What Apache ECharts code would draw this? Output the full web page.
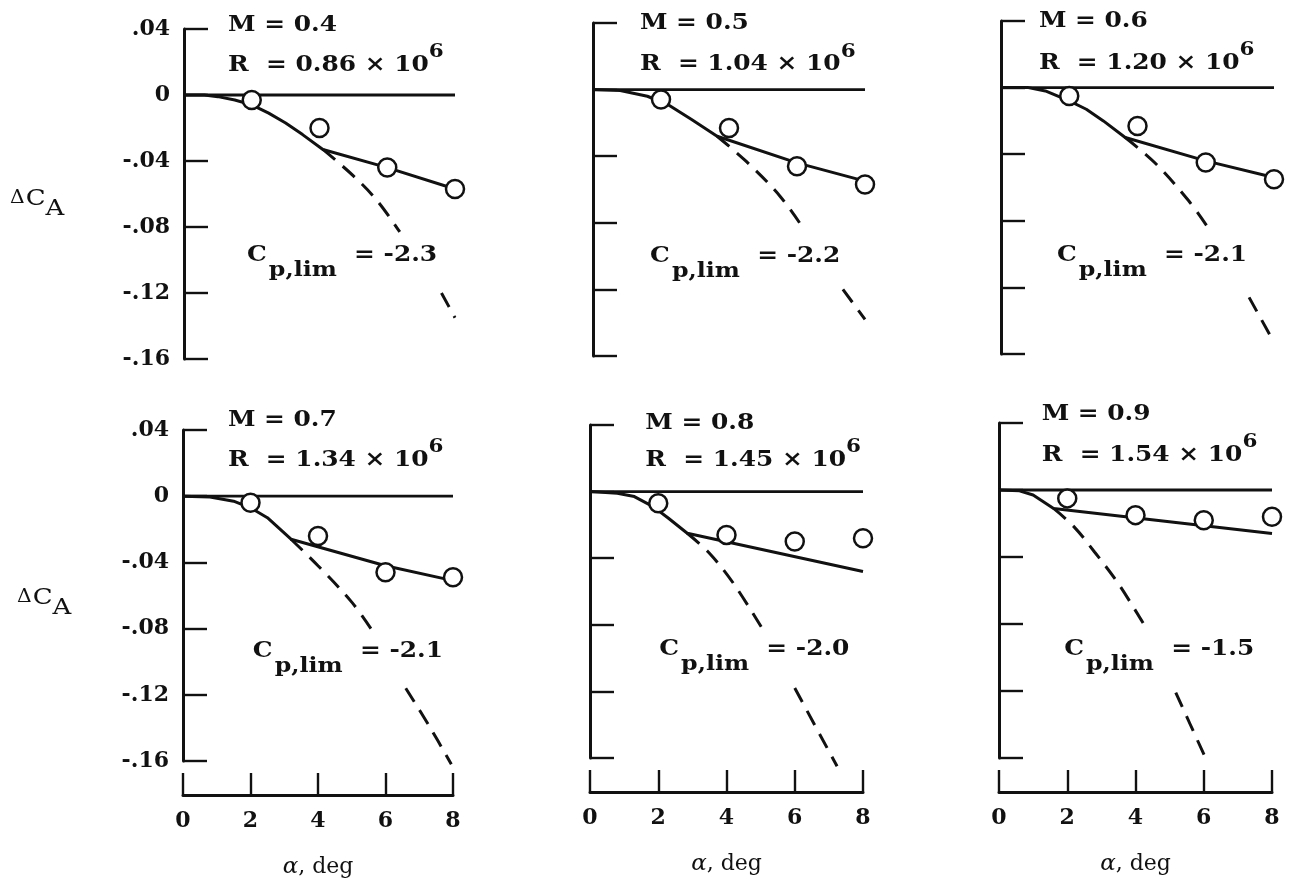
<!DOCTYPE html>
<html><head><meta charset="utf-8">
<script src="https://cdn.jsdelivr.net/npm/echarts@6/dist/echarts.min.js"></script>
<style>html,body{margin:0;padding:0;background:#fff}#c{width:1292px;height:887px}</style>
</head><body><div id="c"></div>
<script>
// ---------- data ----------
const alpha = [2, 4, 6, 8];
const machLabels = ['0.4', '0.5', '0.6', '0.7', '0.8', '0.9'];
const reynoldsLabels = ['0.86', '1.04', '1.20', '1.34', '1.45', '1.54'];
const cpLimLabels = ['-2.3', '-2.2', '-2.1', '-2.1', '-2.0', '-1.5'];
const xTicks = [0, 2, 4, 6, 8];
const xTickLabels = ['0', '2', '4', '6', '8'];
const yTicks = [-0.16, -0.12, -0.08, -0.04, 0, 0.04];
const yTickLabels = ['-.16', '-.12', '-.08', '-.04', '0', '.04'];
const zeroLine = [[0, 0], [8, 0]];

const meas04 = [-0.003, -0.020, -0.044, -0.057];
const solid04 = [[0,0],[0.6,0],[1.0,-0.001],[1.5,-0.003],[2,-0.006],[2.5,-0.011],[3,-0.017],[3.5,-0.024],[4.1,-0.033],[6,-0.044],[8,-0.057]];
const dashA04 = [[4.1,-0.033],[5,-0.049],[5.7,-0.064],[6.37,-0.083]];
const dashB04 = [[7.6,-0.120],[8,-0.135]];

const meas05 = [-0.006, -0.023, -0.046, -0.057];
const solid05 = [[0,0],[0.8,-0.0005],[1.6,-0.004],[2.2,-0.009],[2.9,-0.018],[3.65,-0.028],[6,-0.044],[8,-0.055]];
const dashA05 = [[3.65,-0.028],[4.5,-0.043],[5.5,-0.064],[6.24,-0.085]];
const dashB05 = [[7.35,-0.120],[8,-0.138]];

const meas06 = [-0.005, -0.023, -0.045, -0.055];
const solid06 = [[0,0],[0.8,0],[1.3,-0.002],[2,-0.008],[2.5,-0.013],[3,-0.020],[3.64,-0.030],[6,-0.044],[8,-0.054]];
const dashA06 = [[3.64,-0.030],[4.5,-0.045],[5.5,-0.068],[6.13,-0.086]];
const dashB06 = [[7.27,-0.126],[8,-0.153]];

const meas07 = [-0.004, -0.024, -0.046, -0.049];
const solid07 = [[0,0],[0.8,-0.0005],[1.5,-0.003],[2,-0.007],[2.5,-0.013],[3.2,-0.026],[6,-0.042],[8,-0.051]];
const dashA07 = [[3.2,-0.026],[4,-0.042],[5,-0.064],[5.6,-0.081]];
const dashB07 = [[6.6,-0.116],[7.3,-0.139],[7.95,-0.162]];

const meas08 = [-0.007, -0.026, -0.030, -0.028];
const solid08 = [[0,0],[0.8,-0.001],[1.3,-0.003],[1.85,-0.009],[2.3,-0.016],[2.85,-0.025],[8,-0.048]];
const dashA08 = [[2.85,-0.025],[3.5,-0.037],[4.2,-0.055],[5.04,-0.082]];
const dashB08 = [[6.0,-0.118],[7.24,-0.165]];

const meas09 = [-0.005, -0.015, -0.018, -0.016];
const solid09 = [[0,0],[0.6,-0.0005],[1.0,-0.003],[1.3,-0.007],[1.6,-0.011],[8,-0.026]];
const dashA09 = [[1.6,-0.011],[2.2,-0.022],[2.8,-0.037],[3.5,-0.056],[4.3,-0.082]];
const dashB09 = [[5.18,-0.121],[6.03,-0.159]];

const panels = [
  {meas: meas04, solid: solid04, dashA: dashA04, dashB: dashB04},
  {meas: meas05, solid: solid05, dashA: dashA05, dashB: dashB05},
  {meas: meas06, solid: solid06, dashA: dashA06, dashB: dashB06},
  {meas: meas07, solid: solid07, dashA: dashA07, dashB: dashB07},
  {meas: meas08, solid: solid08, dashA: dashA08, dashB: dashB08},
  {meas: meas09, solid: solid09, dashA: dashA09, dashB: dashB09}
];

// ---------- layout ----------
const gridPos = [
  {left: 184, top: 29, width: 271, height: 330},
  {left: 593, top: 23, width: 272, height: 333},
  {left: 1001, top: 21, width: 273, height: 333},
  {left: 183, top: 430, width: 270, height: 331},
  {left: 590, top: 425, width: 273, height: 333},
  {left: 999, top: 423, width: 273, height: 335}
];
// annotation anchors in data coordinates of each panel
const annotPos = [
  {m: [1.3, 0.042], r: [1.3, 0.018], cp: [1.86, -0.097]},
  {m: [1.38, 0.040], r: [1.38, 0.015], cp: [1.68, -0.100]},
  {m: [1.11, 0.040], r: [1.11, 0.0145], cp: [1.64, -0.101]},
  {m: [1.33, 0.046], r: [1.33, 0.022], cp: [2.07, -0.094]},
  {m: [1.62, 0.041], r: [1.62, 0.019], cp: [2.03, -0.095]},
  {m: [1.25, 0.045], r: [1.25, 0.021], cp: [1.91, -0.095]}
];
const yNamePos = [{x: 10, y: 199}, {x: 17, y: 598}];

const FONT = '"DejaVu Serif", "Liberation Serif", serif';
const WEIGHT = 'bold';
const SX = 1.13;
const BLACK = '#111';

const chart = echarts.init(document.getElementById('c'), null, {renderer: 'canvas'});

const grids = [], xAxes = [], yAxes = [], series = [];
gridPos.forEach((g, i) => {
  grids.push(Object.assign({containLabel: false}, g));
  const bottomRow = i >= 3;
  const leftCol = i % 3 === 0;
  xAxes.push({
    gridIndex: i, type: 'value', min: 0, max: 8, interval: 2,
    show: bottomRow, position: 'bottom', offset: 34,
    axisLine: {show: true, onZero: false, lineStyle: {color: BLACK, width: 3}},
    axisTick: {show: true, inside: true, length: 22, lineStyle: {color: BLACK, width: 2.4}},
    axisLabel: {show: true, margin: 15, color: BLACK, fontSize: 22, fontFamily: FONT, fontWeight: WEIGHT,
      formatter: v => { const k = xTicks.indexOf(Math.round(v)); return k >= 0 ? xTickLabels[k] : ''; }},
    splitLine: {show: false},
    name: bottomRow ? '{a|α}, deg' : '', nameLocation: 'middle', nameGap: 61,
    nameTextStyle: {color: BLACK, fontSize: 22, fontFamily: FONT,
      rich: {a: {fontStyle: 'italic', fontSize: 23, fontFamily: FONT, color: BLACK}}}
  });
  yAxes.push({
    gridIndex: i, type: 'value', min: -0.16, max: 0.04, interval: 0.04,
    axisLine: {show: true, onZero: false, lineStyle: {color: BLACK, width: 3}},
    axisTick: {show: true, inside: true, length: 24, lineStyle: {color: BLACK, width: 2.4}},
    axisLabel: {show: leftCol, margin: 14, color: BLACK, fontSize: 22, fontFamily: FONT, fontWeight: WEIGHT,
      formatter: v => { const k = yTicks.findIndex(t => Math.abs(t - v) < 1e-9); return k >= 0 ? yTickLabels[k] : ''; }},
    splitLine: {show: false}
  });
  const p = panels[i];
  const lineBase = {type: 'line', xAxisIndex: i, yAxisIndex: i, symbol: 'none', clip: false, silent: true};
  series.push(Object.assign({}, lineBase, {data: zeroLine, z: 2, lineStyle: {color: BLACK, width: 2.8}}));
  series.push(Object.assign({}, lineBase, {data: p.solid, z: 3, lineStyle: {color: BLACK, width: 3, join: 'round'}}));
  series.push(Object.assign({}, lineBase, {data: p.dashA, z: 3, smooth: 0.35,
    lineStyle: {color: BLACK, width: 3, type: [16, 10]}}));
  series.push(Object.assign({}, lineBase, {data: p.dashB, z: 3, smooth: 0.35,
    lineStyle: {color: BLACK, width: 3, type: [16, 10]}}));
  series.push({type: 'scatter', xAxisIndex: i, yAxisIndex: i, z: 5, silent: true,
    data: alpha.map((a, k) => [a, p.meas[k]]), symbol: 'circle', symbolSize: 18,
    itemStyle: {color: '#fff', opacity: 1, borderColor: BLACK, borderWidth: 2.5}});
});

chart.setOption({
  animation: false, backgroundColor: '#fff',
  grid: grids, xAxis: xAxes, yAxis: yAxes, series: series
});

// ---------- annotations ----------
const cvs = document.createElement('canvas');
const ctx = cvs.getContext('2d');
function measure(t, font) { ctx.font = font; return ctx.measureText(t).width; }
function textRun(x, y, parts) {
  const els = []; let cx = x;
  parts.forEach(p => {
    const font = (p.italic ? 'italic ' : '') + (p.normal ? '' : WEIGHT + ' ') + p.size + 'px ' + FONT;
    els.push({type: 'text', x: cx, y: y + (p.dy || 0), scaleX: SX, z: 100, silent: true,
      style: {text: p.t, font: font, fill: BLACK, textAlign: 'left', textVerticalAlign: 'middle', verticalAlign: 'middle'}});
    cx += measure(p.t, font) * SX + (p.gap || 0);
  });
  return els;
}
let elements = [];
annotPos.forEach((a, i) => {
  const pm = chart.convertToPixel({gridIndex: i}, a.m);
  const pr = chart.convertToPixel({gridIndex: i}, a.r);
  const pc = chart.convertToPixel({gridIndex: i}, a.cp);
  elements = elements.concat(textRun(pm[0], pm[1], [{t: 'M = ' + machLabels[i], size: 22}]));
  elements = elements.concat(textRun(pr[0], pr[1], [
    {t: 'R  = ' + reynoldsLabels[i] + ' \u00d7 10', size: 22},
    {t: '6', size: 19, dy: -13}]));
  elements = elements.concat(textRun(pc[0], pc[1], [
    {t: 'C', size: 22, gap: 2},
    {t: 'p,lim', size: 21, dy: 15},
    {t: '  = ' + cpLimLabels[i], size: 22}]));
});
yNamePos.forEach(p => {
  elements = elements.concat(textRun(p.x, p.y, [
    {t: '\u0394', size: 18, dy: -1, normal: true, gap: 1},
    {t: 'C', size: 23, normal: true},
    {t: 'A', size: 23, dy: 10, normal: true}]));
});
chart.setOption({graphic: {elements: elements}});
</script>
</body></html>
